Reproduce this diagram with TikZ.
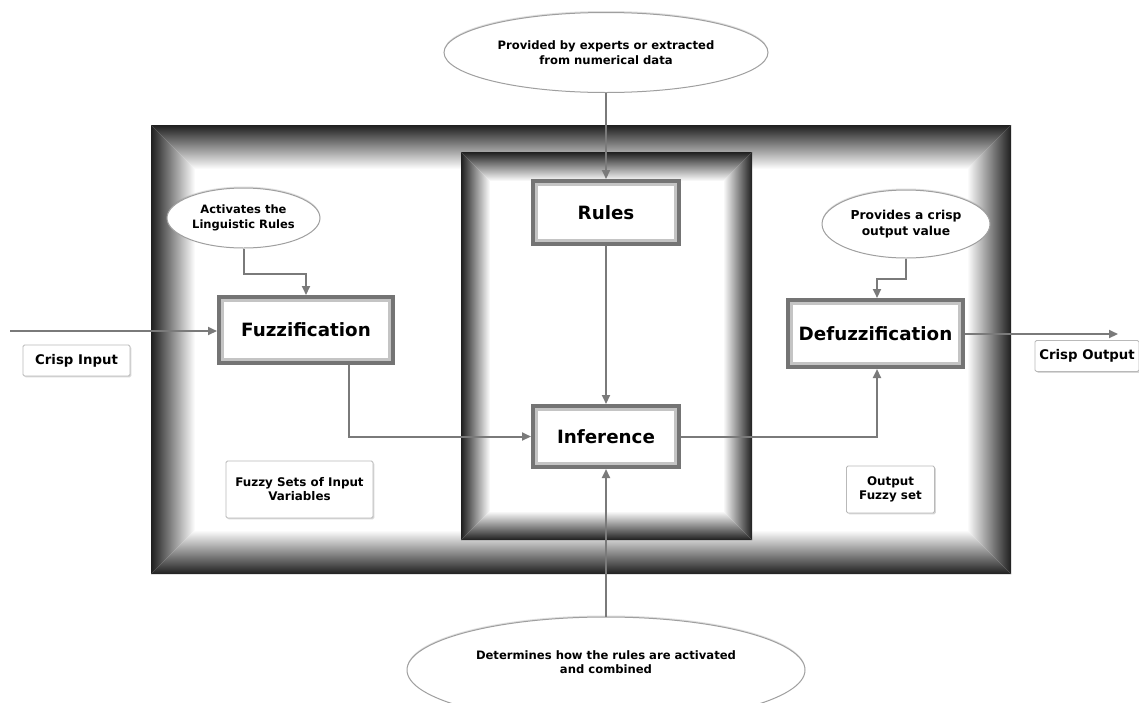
\documentclass[tikz,border=0pt]{standalone}
\usepackage{fontspec}
\setmainfont{DejaVu Sans}
\usetikzlibrary{shapes.geometric,arrows.meta,shadows}
\definecolor{conn}{HTML}{7A7A7A}
\definecolor{boxdark}{HTML}{747474}
\definecolor{boxlight}{HTML}{C4C4C4}
\tikzset{
  bigbox/.style={rectangle, fill=white, draw=boxdark, line width=4pt,
    inner sep=0pt, font=\fontsize{18.3}{21}\selectfont\bfseries,
    path picture={\draw[boxlight, line width=10pt]
      (path picture bounding box.south west) rectangle (path picture bounding box.north east);}},
  lblbox/.style={rectangle, fill=white, draw=gray!55, line width=0.9pt, rounded corners=1.5pt,
    inner sep=0pt, align=center, font=\fontsize{11.9}{14}\selectfont\bfseries,
    drop shadow={shadow xshift=1.3pt, shadow yshift=-1.3pt, opacity=0.3, fill=gray}},
  note/.style={ellipse, fill=white, draw=gray!75, line width=1pt, inner sep=0pt,
    align=center, font=\fontsize{11.6}{14.5}\selectfont\bfseries,
    drop shadow={shadow xshift=0pt, shadow yshift=1.5pt, opacity=0.25, fill=gray}},
  arr/.style={draw=conn, line width=2pt, -{Triangle[length=9pt,width=8pt]}},
}
\newcommand{\bevelframe}[5]{%
  % #1 x0, #2 y0, #3 x1, #4 y1, #5 depth
  \shade[left color=black!88, right color=white]
    (#1,#2) -- ({#1+#5},{#2+#5}) -- ({#1+#5},{#4-#5}) -- (#1,#4) -- cycle;
  \shade[right color=black!88, left color=white]
    (#3,#2) -- ({#3-#5},{#2+#5}) -- ({#3-#5},{#4-#5}) -- (#3,#4) -- cycle;
  \shade[top color=black!88, bottom color=white]
    (#1,#2) -- (#3,#2) -- ({#3-#5},{#2+#5}) -- ({#1+#5},{#2+#5}) -- cycle;
  \shade[bottom color=black!88, top color=white]
    (#1,#4) -- (#3,#4) -- ({#3-#5},{#4-#5}) -- ({#1+#5},{#4-#5}) -- cycle;
}
\begin{document}
\begin{tikzpicture}[x=1pt,y=-1pt]
\useasboundingbox (0,0) rectangle (1139,702);
\clip (0,0) rectangle (1139,702);
\fill[white] (0,0) rectangle (1139,702);

% frames
\bevelframe{151}{125}{1011}{574}{44}
\fill[white] (461,152) rectangle (752,540);
\bevelframe{461}{152}{752}{540}{29}

% ellipses
\node[note, minimum width=324pt, minimum height=80pt] (etop) at (606,52.5)
  {Provided by experts or extracted\\from numerical data};
\node[note, minimum width=153pt, minimum height=60pt, font=\fontsize{11.5}{15.5}\selectfont\bfseries] (eact) at (243.5,218)
  {Activates the\\Linguistic Rules};
\node[note, minimum width=168pt, minimum height=68pt, font=\fontsize{12.3}{16}\selectfont\bfseries] (eprov) at (906,224)
  {Provides a crisp\\output value};
\node[note, minimum width=398pt, minimum height=106pt] (ebot) at (606,670)
  {Determines how the rules are activated\\and combined\\[1pt]\mbox{}};

% main boxes
\node[bigbox, minimum width=174pt, minimum height=66pt] (fuzz) at (306,330) {Fuzzification};
\node[bigbox, minimum width=146pt, minimum height=63pt] (rules) at (606,212.5) {Rules};
\node[bigbox, minimum width=146pt, minimum height=61pt] (infer) at (606,436.5) {Inference};
\node[bigbox, minimum width=175pt, minimum height=67pt] (defuzz) at (875.5,333.5) {Defuzzification};

% label boxes
\node[lblbox, minimum width=107pt, minimum height=31pt, font=\fontsize{13.3}{15}\selectfont\bfseries] (crispin) at (76.5,360.5) {Crisp Input};
\node[lblbox, minimum width=147pt, minimum height=57pt] (fuzzysets) at (299.5,489.5) {Fuzzy Sets of Input\\Variables};
\node[lblbox, minimum width=88pt, minimum height=47pt] (outfuzzy) at (890.5,489.5) {Output\\Fuzzy set};
\node[lblbox, minimum width=104pt, minimum height=31pt, font=\fontsize{13.3}{15}\selectfont\bfseries] (crispout) at (1087,356) {Crisp Output};

% connectors
\coordinate (in0) at (10,331);
\coordinate (out0) at (1118,334);
\draw[arr] (in0) -- (in0 -| fuzz.west);
\draw[arr] (eact.south) -- ++(0,25) -| (fuzz.north);
\draw[arr] (etop.south) -- (rules.north);
\draw[arr] (rules.south) -- (infer.north);
\draw[arr] ([xshift=43pt]fuzz.south) |- (infer.west);
\draw[arr] (infer.east) -| ([xshift=1.5pt]defuzz.south);
\draw[arr] (eprov.south) -- ++(0,20) -| ([xshift=1.5pt]defuzz.north);
\draw[arr] (defuzz.east |- out0) -- (out0);
\draw[arr] (ebot.north) -- (infer.south);
\end{tikzpicture}
\end{document}
